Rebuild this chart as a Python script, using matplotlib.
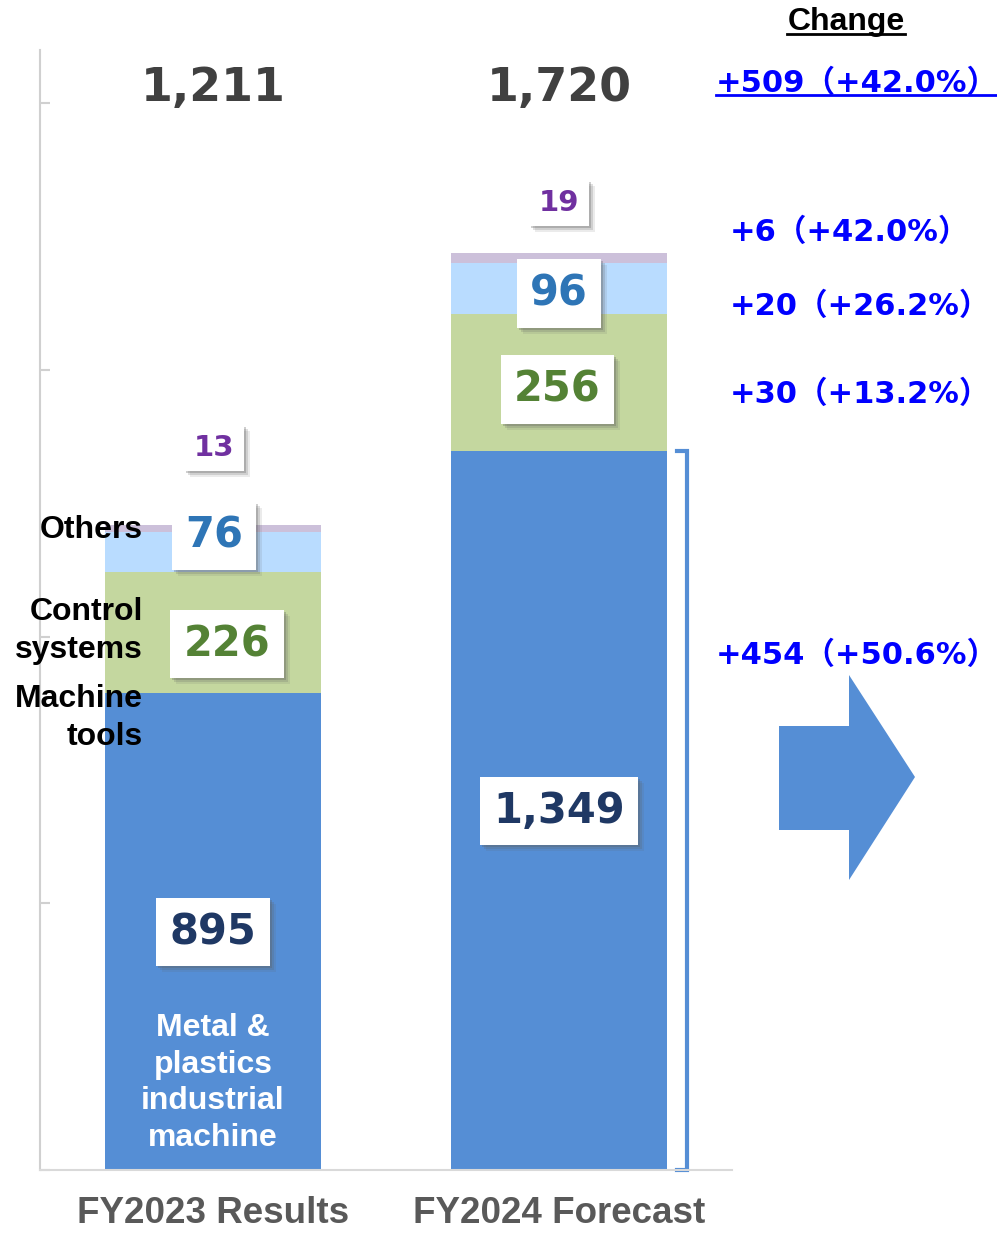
import matplotlib.pyplot as plt
from matplotlib.patches import Polygon, Rectangle
from matplotlib.lines import Line2D

# データ
periods = ['FY2023 Results', 'FY2024 Forecast']
metal = [895, 1349]      # Metal & plastics industrial machine
machine = [226, 256]     # Machine tools
control = [76, 96]       # Control systems
others = [13, 19]        # Others
totals = ['1,211', '1,720']
changes = ['+509（+42.0%）', '+6（+42.0%）', '+20（+26.2%）', '+30（+13.2%）', '+454（+50.6%）']

c_metal = '#558ED5'
c_machine = '#C4D79F'
c_control = '#B9DCFF'
c_others = '#CCC0DA'

fig = plt.figure(figsize=(9.97, 12.33), dpi=100)
W, H = 997, 1233
ax = fig.add_axes([40 / W, 1 - 1170 / H, 692 / W, 1120 / H])

x = [0, 1]
bw = 0.622
b1 = metal
b2 = [a + b for a, b in zip(metal, machine)]
b3 = [a + b for a, b in zip(b2, control)]
ax.bar(x, metal, bw, color=c_metal)
ax.bar(x, machine, bw, bottom=b1, color=c_machine)
ax.bar(x, control, bw, bottom=b2, color=c_control)
ax.bar(x, others, bw, bottom=b3, color=c_others)

ax.set_xlim(-0.5, 1.5)
ax.set_ylim(0, 2100)
for s in ['top', 'right']:
    ax.spines[s].set_visible(False)
ax.spines['left'].set_color('#D0D0D0')
ax.spines['left'].set_linewidth(1.5)
ax.spines['bottom'].set_color('#D9D9D9')
ax.spines['bottom'].set_linewidth(1.5)
ax.set_yticks([0, 500, 1000, 1500, 2000])
ax.tick_params(axis='y', direction='in', length=7, width=1.5, color='#D0D0D0', labelleft=False)
ax.set_xticks(x)
ax.set_xticklabels(periods, fontsize=26.5, fontweight='bold', color='#595959', family='Liberation Sans')
ax.tick_params(axis='x', length=0, pad=19)

# 数値ラベル（白い箱＋影）
boxes = []


def boxed(xp, yp, txt, color, size):
    t = ax.text(xp, yp, txt, fontsize=size, fontweight='bold', color=color,
                ha='center', va='center', family='DejaVu Sans', zorder=5,
                bbox=dict(boxstyle='square,pad=0.32', fc='white', ec='none'))
    boxes.append(t)


navy, green, blue, purple = '#1F3864', '#548235', '#2E75B6', '#7030A0'
boxed(0, 446, f'{metal[0]:,}', navy, 30)
boxed(1, 673, f'{metal[1]:,}', navy, 30)
boxed(0.04, 986, f'{machine[0]}', green, 30)
boxed(0.995, 1464, f'{machine[1]}', green, 30)
boxed(0.003, 1189, f'{control[0]}', blue, 30)
boxed(1, 1644, f'{control[1]}', blue, 30)
boxed(0.003, 1354, f'{others[0]}', purple, 21)
boxed(1, 1813, f'{others[1]}', purple, 21)

for xi, t in zip(x, totals):
    ax.text(xi, 2028, t, fontsize=33, fontweight='bold', color='#404040',
            ha='center', va='center', family='DejaVu Sans', clip_on=False)

ax.text(0, (1170 - 1083) / 0.5333, 'Metal &\nplastics\nindustrial\nmachine', fontsize=23,
        fontweight='bold', color='white', ha='center', va='center', linespacing=1.3,
        family='Liberation Sans')


# 左側ラベル
def fy(p):
    return 1 - p / H


lab = dict(fontsize=23, fontweight='bold', color='black', ha='right', va='center',
           linespacing=1.35, family='Liberation Sans')
fig.text(143 / W, fy(530), 'Others', **lab)
fig.text(143 / W, fy(631), 'Control\nsystems', **lab)
fig.text(143 / W, fy(718), 'Machine\ntools', **lab)

# 括弧
ax.plot([1.34, 1.369, 1.369, 1.34], [0, 0, metal[1], metal[1]], color=c_metal, lw=3,
        clip_on=False, solid_joinstyle='miter')

# 矢印
pts = [(779, 726), (849, 726), (849, 675), (915, 777), (849, 880), (849, 830), (779, 830)]
fig.patches.append(Polygon([(px / W, fy(py)) for px, py in pts], closed=True,
                           transform=fig.transFigure, fc=c_metal, ec='none'))

# 変化
fam = ['DejaVu Sans', 'Noto Sans CJK JP']
t_change = fig.text(846 / W, fy(22), 'Change', fontsize=23, fontweight='bold',
                    ha='center', va='center', family='Liberation Sans')
cpos = [(716, 83), (730, 232), (730, 306), (730, 394), (716, 655)]
ctexts = []
for (px, py), t in zip(cpos, changes):
    ctexts.append(fig.text(px / W, fy(py), t, fontsize=22, fontweight='bold', color='#0000FF',
                           ha='left', va='center', family=fam))

# 下線と影
fig.canvas.draw()
r = fig.canvas.get_renderer()
for t, col, off in [(t_change, 'black', 3), (ctexts[0], '#0000FF', 3)]:
    bb = t.get_window_extent(r)
    yy = bb.y0 + off
    fig.add_artist(Line2D([bb.x0 / W, bb.x1 / W], [yy / H, yy / H], color=col, lw=2,
                          transform=fig.transFigure))
for t in boxes:
    bb = t.get_bbox_patch().get_window_extent(r)
    for k, a in [(6, 0.12), (4, 0.2), (2, 0.3)]:
        ax.add_patch(Rectangle(((bb.x0 + k) / W, (bb.y0 - k) / H), bb.width / W, bb.height / H,
                               transform=fig.transFigure, fc='#606060', ec='none', alpha=a,
                               zorder=4, clip_on=False))

fig.savefig('out.png', dpi=100)
